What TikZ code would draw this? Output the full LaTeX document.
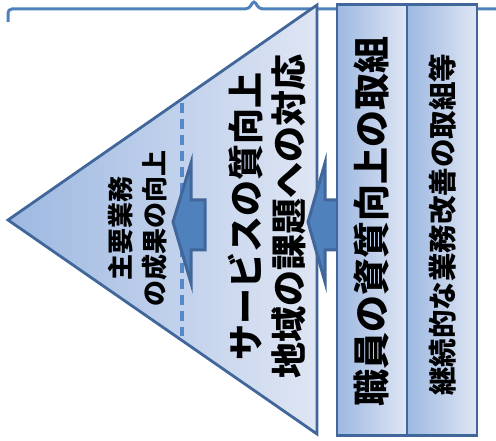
\documentclass[tikz,border=0pt]{standalone}
\usepackage{fontspec}
\usepackage{xcolor}
\usepackage{tikz}
\usetikzlibrary{positioning}
\newfontfamily\jpfont{Noto Sans CJK JP}
\definecolor{edgeblue}{HTML}{41679A}
\definecolor{accentblue}{HTML}{4F81BD}
\definecolor{dashblue}{HTML}{5588C8}
\definecolor{shadedark}{HTML}{9DB8E1}
\definecolor{shadelight}{HTML}{DFE6F4}
\tikzstyle{panel} = [rectangle, minimum width=70pt, minimum height=431pt, inner sep=0pt, outer sep=0pt, draw=edgeblue, line width=2.8pt, left color=shadedark, right color=shadelight]
\tikzstyle{pyramid} = [draw=edgeblue, line width=2.8pt, left color=shadedark, right color=shadelight]
\tikzstyle{push} = [draw=edgeblue, line width=3pt, fill=accentblue, line join=miter]
\tikzstyle{bracket} = [draw=accentblue, line width=3pt]
\tikzstyle{caption} = [rotate=90, align=center, inner sep=0pt, text=black]
\newcommand{\jpsize}[2]{\jpfont\bfseries\fontsize{#1}{#2}\selectfont}

\begin{document}
\begin{tikzpicture}[x=1pt, y=-1pt]
        \useasboundingbox (0,0) rectangle (496,441);
        % Brace spanning the whole scheme
        \draw [bracket, rounded corners=4pt] (8,22) -- (8,9) -- (249,9) -- (254,0) -- (259,9) -- (500,9) -- (500,22);
        % Triangle of outcomes
        \coordinate (apex) at (8,220);
        \coordinate (topR) at (317,5);
        \coordinate (botR) at (317,434);
        \draw [pyramid] (apex) -- (topR) -- (botR) -- cycle;
        \coordinate (splitTop) at (182,103);
        \coordinate (splitBot) at (182,336);
        \draw [dashblue, line width=4pt, dash pattern=on 10pt off 6pt] (splitTop) -- (splitBot);
        \node (core) [caption, font=\jpsize{26}{34}] at (138,228) {主要業務\\の成果の向上};
        \node (service) [caption, font=\jpsize{36}{43}] at (267,216) {サービスの質向上\\地域の課題への対応};
        % Block arrows pushing to the left
        \draw [push] (173,222) -- (191,163) -- (191,200) -- (205,200) -- (205,250) -- (191,250) -- (191,283) -- cycle;
        \draw [push] (308,222) -- (325,163) -- (325,200) -- (338,200) -- (338,250) -- (325,250) -- (325,282) -- cycle;
        % Two columns of measures
        \node (staff) [panel] at (372,220) {};
        \node (works) [panel, right=0pt of staff] {};
        \node (staffText) [caption, font=\jpsize{37}{44}] at (372,221.5) {職員の資質向上の取組};
        \node (worksText) [caption, font=\jpsize{28.5}{34}] at (442.5,224.5) {継続的な業務改善の取組等};
\end{tikzpicture}
\end{document}
